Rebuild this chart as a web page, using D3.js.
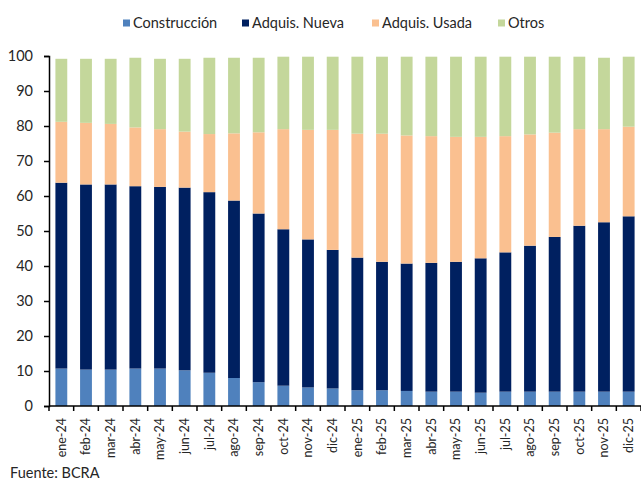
<!DOCTYPE html>
<html>
<head>
<meta charset="utf-8">
<script src="https://cdn.jsdelivr.net/npm/d3@7"></script>
<style>
  body { margin: 0; background: #fff; }
  text { font-family: Lato, "Open Sans", sans-serif; fill: #262626; }
</style>
</head>
<body>
<div id="my_dataviz"></div>
<script>
// * DATA
var meses = ["ene-24","feb-24","mar-24","abr-24","may-24","jun-24","jul-24","ago-24","sep-24","oct-24","nov-24","dic-24",
             "ene-25","feb-25","mar-25","abr-25","may-25","jun-25","jul-25","ago-25","sep-25","oct-25","nov-25","dic-25"];
var construccion = [10.7,10.4,10.4,10.7,10.7,10.2,9.5,8.0,6.8,5.8,5.3,5.0,4.5,4.5,4.3,4.1,4.1,3.8,4.1,4.1,4.1,4.1,4.1,4.1];
var adqNueva = [53.1,52.9,52.9,52.1,51.9,52.2,51.6,50.7,48.2,44.7,42.3,39.6,37.9,36.7,36.4,36.8,37.1,38.4,39.8,41.7,44.2,47.4,48.4,50.1];
var adqUsada = [17.4,17.6,17.3,16.8,16.5,16.0,16.6,19.2,23.2,28.6,31.3,34.3,35.4,36.6,36.6,36.2,35.7,34.7,33.2,31.8,29.8,27.6,26.6,25.6];
var otros = [18.0,18.3,18.6,19.9,20.1,20.8,21.8,21.6,21.3,20.7,20.9,20.9,22.0,22.0,22.5,22.7,22.9,22.9,22.7,22.2,21.7,20.7,20.4,20.0];
var series = ["Construcción","Adquis. Nueva","Adquis. Usada","Otros"];
var colores = ["#4F81BD","#002060","#FAC090","#C4D79B"];
var yTicks = [0,10,20,30,40,50,60,70,80,90,100];

var tabla = meses.map(function(m, i) {
    return {mes: m, "Construcción": construccion[i], "Adquis. Nueva": adqNueva[i],
            "Adquis. Usada": adqUsada[i], "Otros": otros[i]};
});

// dimensions
var W = 641, H = 484;
var margin = {top: 56, right: 0, bottom: 78, left: 49},
width = W - margin.left - margin.right,
height = H - margin.top - margin.bottom;

var svg = d3.select("#my_dataviz")
.append("svg")
.attr("width", W)
.attr("height", H);

var g = svg.append("g")
.attr("transform", "translate(" + margin.left + "," + margin.top + ")");

var x = d3.scaleBand()
.domain(meses)
.range([0, width])
.paddingInner(0.52)
.paddingOuter(0.26);

var y = d3.scaleLinear()
.domain([0, 100])
.range([height, 0]);

var color = d3.scaleOrdinal().domain(series).range(colores);

var stacked = d3.stack().keys(series)(tabla);

// bars
g.selectAll("g.serie")
.data(stacked)
.enter()
.append("g")
  .attr("class", "serie")
  .attr("fill", function(d){ return color(d.key); })
.selectAll("rect")
.data(function(d){ return d; })
.enter()
.append("rect")
  .attr("x", function(d){ return x(d.data.mes); })
  .attr("y", function(d){ return y(d[1]); })
  .attr("height", function(d){ return y(d[0]) - y(d[1]); })
  .attr("width", x.bandwidth());

// Y axis
var yAxis = g.append("g")
.call(d3.axisLeft(y).tickValues(yTicks).tickSize(5).tickPadding(11).tickSizeOuter(5));
yAxis.select(".domain").attr("stroke", "#000").attr("stroke-width", 1.5);
yAxis.selectAll(".tick line").attr("stroke", "#000").attr("stroke-width", 1.5);
yAxis.selectAll("text").style("font-size", "14.5px").attr("fill", "#262626");

// X axis: ticks between categories
var xAxis = g.append("g")
.attr("transform", "translate(0," + height + ")");
xAxis.append("line")
.attr("x1", 0).attr("x2", width)
.attr("stroke", "#000").attr("stroke-width", 1.5);
var bordes = d3.range(meses.length + 1).map(function(i){ return i * x.step(); });
xAxis.selectAll("line.tk")
.data(bordes)
.enter()
.append("line")
  .attr("class", "tk")
  .attr("x1", function(d){ return d; })
  .attr("x2", function(d){ return d; })
  .attr("y1", 0).attr("y2", 5)
  .attr("stroke", "#000").attr("stroke-width", 1.5);
xAxis.selectAll("text")
.data(meses)
.enter()
.append("text")
  .attr("transform", function(d){ return "translate(" + (x(d) + x.bandwidth()/2) + ",12) rotate(-90)"; })
  .attr("text-anchor", "end")
  .attr("dy", "0.35em")
  .style("font-size", "12.5px")
  .text(function(d){ return d; });

// legend
var legX = [123, 242, 372, 498];
var leg = svg.append("g");
series.forEach(function(s, i) {
    leg.append("rect")
    .attr("x", legX[i]).attr("y", 19.5)
    .attr("width", 7).attr("height", 7)
    .attr("fill", colores[i]);
    leg.append("text")
    .attr("x", legX[i] + 10).attr("y", 23)
    .attr("dy", "0.35em")
    .style("font-size", "14.5px")
    .text(s);
});

// source
svg.append("text")
.attr("x", 10).attr("y", 478)
.style("font-size", "14.5px")
.text("Fuente: BCRA");
</script>
</body>
</html>
